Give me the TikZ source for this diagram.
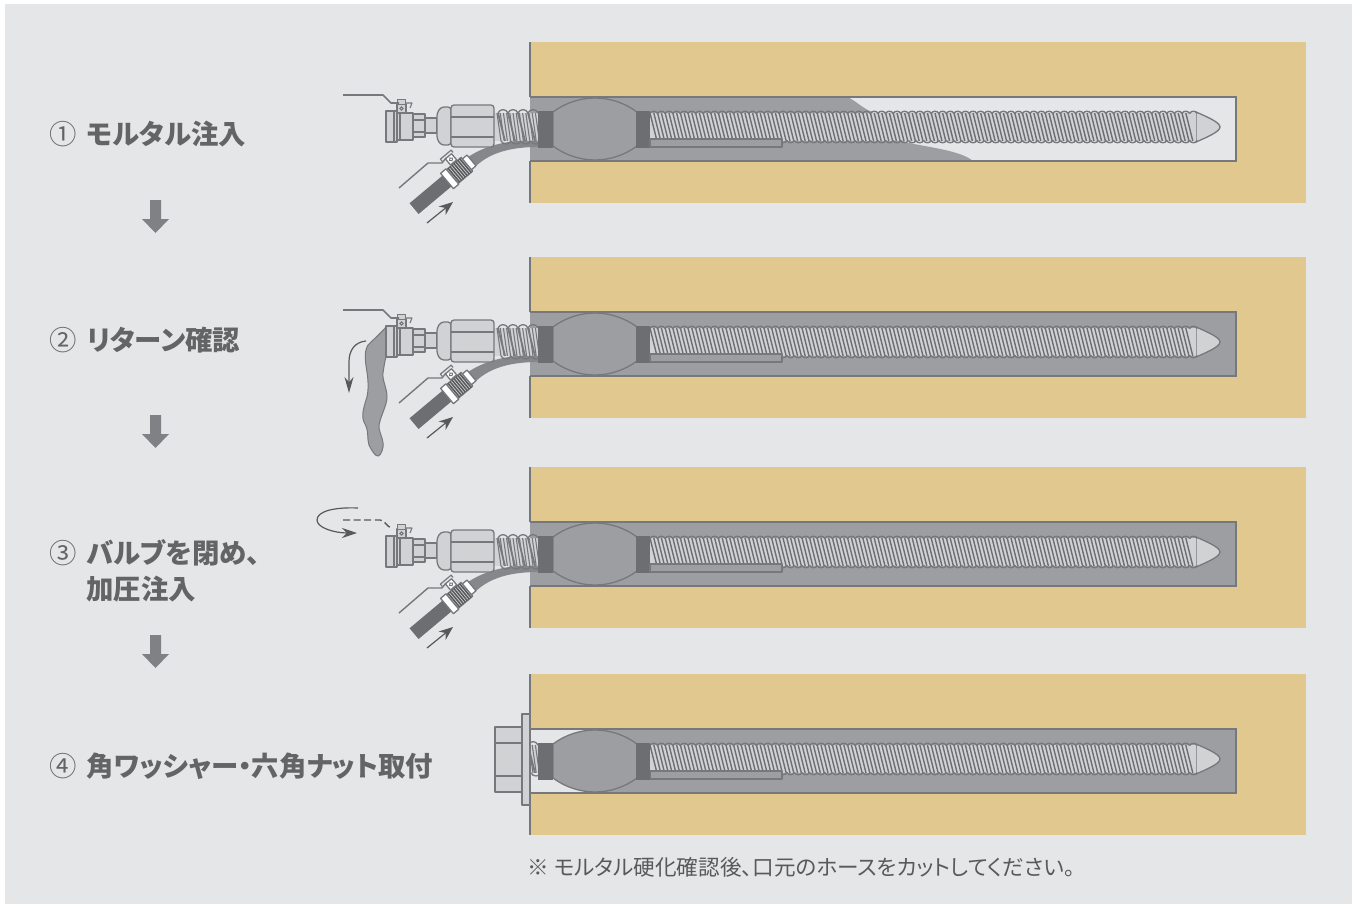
\documentclass[tikz,border=0pt]{standalone}
\usepackage{fontspec}
\newfontfamily\jp[RawFeature={+palt}]{Noto Sans CJK JP}
\usetikzlibrary{arrows.meta}
\definecolor{panelc}{HTML}{E5E6E8}
\definecolor{concc}{HTML}{E1C88E}
\definecolor{groutc}{HTML}{9D9EA1}
\definecolor{darkc}{HTML}{6D6E71}
\definecolor{lightc}{HTML}{D1D2D4}
\definecolor{linec}{HTML}{77787B}
\definecolor{inkc}{HTML}{58595B}
\definecolor{textc}{HTML}{636466}
\definecolor{stepc}{HTML}{808184}
\tikzset{
  x=.5pt,y=-.5pt,
  asmLine/.style={draw=linec,line width=.65pt,line join=round},
  asmFitting/.style={asmLine,fill=lightc},
  asmThin/.style={draw=linec,line width=.5pt},
  holeLine/.style={draw=linec,line width=.55pt},
  flowLine/.style={draw=inkc,line width=.6pt,-{Stealth[length=7pt,width=5.5pt]}},
  stepText/.style={anchor=west,inner sep=0pt,text=textc,font=\jp\bfseries\fontsize{13.7}{17}\selectfont},
  noteText/.style={anchor=west,inner sep=0pt,text=inkc,font=\jp\fontsize{10.8}{13}\selectfont},
  stepShape/.style={fill=stepc,draw=none},
  asmConcrete/.pic={
    \fill[concc] (530,42) rectangle (1306,97);
    \fill[concc] (530,161) rectangle (1306,203);
    \fill[concc] (1236,97) rectangle (1306,161);
    \draw[holeLine] (530,42) -- (530,97);
    \draw[holeLine] (530,161) -- (530,203);
  },
  asmHole/.pic={
    \draw[holeLine] (530,97) -- (1236,97) -- (1236,161) -- (530,161);
  },
  asmBolt/.pic={
    \filldraw[asmLine,draw=linec,fill=lightc] (1196,112) .. controls (1205,116) and (1220,122) .. (1220,127) .. controls (1220,132) and (1205,138) .. (1196,142) -- cycle;
    \fill[lightc] (650,113) rectangle (1196,141);
    \foreach \i in {0,...,141}{
      \pgfmathsetmacro\xc{650+3.8*\i}
      \draw[darkc,line width=.7pt] (\xc,113) -- (\xc+7,141);
    }
    \foreach \i in {0,...,71}{
      \pgfmathsetmacro\xa{650+7.6*\i}
      \pgfmathsetmacro\xb{\xa+7.6}
      \draw[asmThin,line width=.7pt] (\xa,113.5) .. controls (\xa+1.5,110.5) and (\xb-1.5,110.5) .. (\xb,113.5);
      \draw[asmThin,line width=.7pt] (\xa,140.5) .. controls (\xa+1.5,143.5) and (\xb-1.5,143.5) .. (\xb,140.5);
    }
    \filldraw[asmLine,fill=groutc] (650,139) rectangle (782,147);
  },
  asmPacker/.pic={
    \filldraw[asmLine,fill=groutc] (553,112) .. controls (565,103) and (580,98) .. (595,98) .. controls (610,98) and (625,103) .. (637,112) -- (637,146) .. controls (625,155) and (610,160) .. (595,160) .. controls (580,160) and (565,155) .. (553,146) -- cycle;
    \fill[darkc] (538,111) rectangle (553,148);
    \fill[darkc] (636,111) rectangle (650,148);
  },
  asmShort/.pic={
    \fill[lightc] (493,113) rectangle (538,141);
    \draw[asmLine] (493,112) -- (493,142);
    \foreach \i in {0,...,13}{
      \pgfmathsetmacro\xa{497+3.2*\i}
      \draw[linec,line width=.55pt] (\xa,113) -- (\xa+4,141);
    }
    \foreach \i in {0,...,3}{
      \pgfmathsetmacro\xa{498+10*\i}
      \pgfmathsetmacro\xb{\xa+10}
      \draw[linec,line width=.9pt] (\xa,113) -- (\xa+7,141);
      \draw[asmLine] (\xa,113) .. controls (\xa+2,108.5) and (\xb-2,108.5) .. (\xb,113);
      \draw[asmLine] (\xa+3,141) .. controls (\xa+5,145) and (\xb+1,145) .. (\xb+3,141);
    }
  },
  asmHose/.pic={
    \fill[stepc!80!groutc] (468,157) .. controls (485,146) and (505,140) .. (538,140) -- (538,147) .. controls (510,147) and (490,153) .. (476,166) -- cycle;
  },
  asmFittings/.pic={
    \filldraw[asmFitting] (386,111) rectangle (397,142);
    \filldraw[asmFitting] (397,113) rectangle (413,140);
    \draw[asmLine] (394,112) -- (394,141);
    \draw[asmLine] (400,113) -- (400,140);
    \filldraw[asmFitting] (413,114) rectangle (425,137);
    \draw[asmLine] (413,120) -- (425,120) (413,132) -- (425,132);
    \filldraw[asmFitting] (425,118) rectangle (437,133);
    \filldraw[asmFitting,rounded corners=1.5pt] (451,107) -- (441,107) -- (437,113) -- (437,139) -- (441,145) -- (451,145) -- cycle;
    \filldraw[asmFitting,rounded corners=1.5pt] (451,105) rectangle (494,147);
    \draw[asmLine] (451,117) -- (494,117) (451,137) -- (494,137);
    \filldraw[asmFitting] (397,104) rectangle (406,113);
    \draw[asmThin] (401.5,108.5) circle[radius=1.6];
    \filldraw[asmFitting,line width=.5pt] (397,99) rectangle (405,104);
    \draw[asmLine,line width=.55pt] (406,103) -- (412,103) -- (410,108);
  },
  asmHandle/.pic={
    \draw[asmLine,line width=.8pt] (343,95) -- (383,95) -- (391,103) -- (399,103);
  },
  asmLowerValve/.pic={
    \begin{scope}[shift={(447,181)},rotate=40]
      \fill[darkc] (-43,-7) rectangle (0,7);
      \filldraw[asmLine,fill=white] (13,-18) rectangle (21,-10);
      \draw[asmThin] (17,-14) circle[radius=1.8];
      \draw[asmLine,line width=.6pt] (9,-18) -- (9,-21) -- (23,-21) -- (23,-18);
      \filldraw[asmLine,fill=lightc] (7,-9) rectangle (26,9);
      \foreach \xa in {9,11.5,14,16.5,19,21.5,24}{\draw[inkc,line width=.75pt] (\xa,-9) -- (\xa,9);}
      \filldraw[asmLine,fill=white] (0,-10) rectangle (7,10);
      \filldraw[asmLine,fill=white] (26,-7) rectangle (32,7);
    \end{scope}
    \coordinate (-h0) at (399,188);
    \draw[asmLine,line width=.7pt] (-h0) -- (428,163) -- (442,163) -- (446,158);
    \coordinate (-from) at (427,223);
    \coordinate (-to) at (453,202);
    \draw[flowLine] (-from) -- (-to);
  },
  asmFront/.pic={
    \pic {asmHose};
    \pic {asmShort};
    \pic {asmPacker};
    \pic {asmBolt};
    \pic {asmFittings};
    \pic {asmLowerValve};
  },
}
\begin{document}
\begin{tikzpicture}
\useasboundingbox (0,0) rectangle (1357,905);
\fill[white] (0,0) rectangle (1357,905);
\fill[panelc] (5,4) rectangle (1352,904);

% Row 1
\pic at (0,0) {asmConcrete};
\fill[groutc] (530,97) -- (847,97) .. controls (855,100) and (862,108) .. (872,112) -- (905,142) .. controls (925,147) and (960,150) .. (973,161) -- (530,161) -- cycle;
\pic at (0,0) {asmHole};
\pic at (0,0) {asmFront};
\pic at (0,0) {asmHandle};

% Row 2
\pic at (0,215) {asmConcrete};
\fill[groutc] (530,312) rectangle (1236,376);
\pic at (0,215) {asmHole};
\filldraw[asmThin,fill=groutc] (386,327) .. controls (382,332) and (373,340) .. (368,345) .. controls (364,352) and (365,360) .. (367,372) .. controls (369,385) and (368,395) .. (366,400) .. controls (363,410) and (361,417) .. (365,424) .. controls (369,431) and (367,440) .. (369,445) .. controls (372,451) and (375,456) .. (378,456) .. controls (381,456) and (384,447) .. (383,443) .. controls (382,435) and (378,430) .. (379,425) .. controls (381,415) and (387,405) .. (387,397) .. controls (387,388) and (382,380) .. (383,373) .. controls (384,366) and (385,360) .. (386,357) -- cycle;
\pic at (0,215) {asmFront};
\pic at (0,215) {asmHandle};
\coordinate (drip0) at (366,341);
\coordinate (drip1) at (349,393);
\draw[inkc,line width=.6pt,-{Stealth[length=8pt,width=4.5pt]}] (drip0) .. controls (355,342) and (349,350) .. (349,362) -- (drip1);

% Row 3
\pic at (0,425) {asmConcrete};
\fill[groutc] (530,522) rectangle (1236,586);
\pic at (0,425) {asmHole};
\pic at (0,425) {asmFront};
\coordinate (dash0) at (343,520);
\coordinate (dash1) at (393,528);
\draw[inkc,line width=.7pt,dash pattern=on 3.5pt off 1.8pt] (dash0) -- (380,520) .. controls (386,520) and (385,527) .. (dash1);
\coordinate (turn0) at (358,508);
\coordinate (turn1) at (357,533);
\draw[inkc,line width=.6pt,-{Stealth[length=7.5pt,width=5pt]}] (turn0) .. controls (335,507) and (317,511) .. (317,520) .. controls (317,528) and (335,533) .. (turn1);

% Row 4
\pic at (0,632) {asmConcrete};
\fill[groutc] (595,729) rectangle (1236,793);
\pic at (0,632) {asmHole};
\pic at (0,632) {asmBolt};
\begin{scope}
  \clip (530,740) rectangle (538,780);
  \pic at (0,632) {asmShort};
\end{scope}
\pic at (0,632) {asmPacker};
\filldraw[asmFitting] (495,727) rectangle (522,792);
\draw[asmLine] (495,743) -- (522,743) (495,776) -- (522,776);
\filldraw[asmFitting] (522,714) rectangle (530,805);

% Step arrows
\filldraw[stepShape] (150,200) -- (161,200) -- (161,219) -- (169,219) -- (155.5,233) -- (142,219) -- (150,219) -- cycle;
\filldraw[stepShape] (150,415) -- (161,415) -- (161,434) -- (169,434) -- (155.5,448) -- (142,434) -- (150,434) -- cycle;
\filldraw[stepShape] (150,635) -- (161,635) -- (161,654) -- (169,654) -- (155.5,668) -- (142,654) -- (150,654) -- cycle;

% Text
\node[stepText] (s1) at (49,134) {{\mdseries ①}\hspace{5pt}モルタル注入};
\node[stepText] (s2) at (49,340) {{\mdseries ②}\hspace{5pt}リターン確認};
\node[stepText] (s3a) at (49,553) {{\mdseries ③}\hspace{5pt}バルブを閉め、};
\node[stepText] (s3b) at (86,589) {加圧注入};
\node[stepText] (s4) at (49,766) {{\mdseries ④}\hspace{5pt}角ワッシャー・六角ナット取付};
\node[noteText] (note) at (527,867) {※ モルタル硬化確認後、口元のホースをカットしてください。};
\end{tikzpicture}
\end{document}
